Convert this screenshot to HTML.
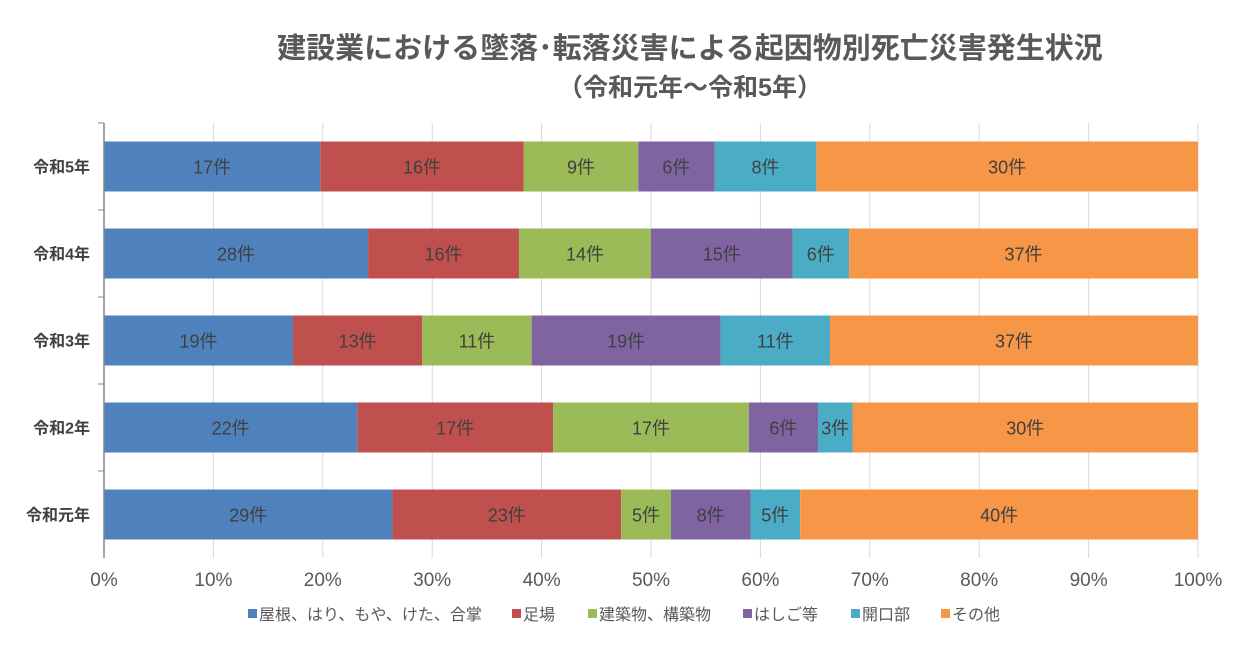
<!DOCTYPE html>
<html><head><meta charset="utf-8"><style>
body{margin:0;background:#fff;}
svg text{font-family:"Liberation Sans","Noto Sans CJK JP",sans-serif;}
</style></head><body>
<svg id="c" width="1251" height="645">
<text x="690" y="58" text-anchor="middle" font-size="29" font-weight="bold" fill="#595959">建設業における墜落･転落災害による起因物別死亡災害発生状況</text>
<text x="690" y="96" text-anchor="middle" font-size="25" font-weight="bold" fill="#595959">（令和元年～令和5年）</text>
<g id="grid"></g><g id="bars"></g><g id="axes"></g><g id="legend"></g>
</svg>
<script>
const categories=["令和5年","令和4年","令和3年","令和2年","令和元年"];
const seriesNames=["屋根、はり、もや、けた、合掌","足場","建築物、構築物","はしご等","開口部","その他"];
const s0=[17,28,19,22,29];
const s1=[16,16,13,17,23];
const s2=[9,14,11,17,5];
const s3=[6,15,19,6,8];
const s4=[8,6,11,3,5];
const s5=[30,37,37,30,40];
const tickLabels=["0%","10%","20%","30%","40%","50%","60%","70%","80%","90%","100%"];
const series=[s0,s1,s2,s3,s4,s5];
const colors=["#4f81bd","#c0504d","#9bbb59","#8064a2","#4bacc6","#f79646"];
const NS="http://www.w3.org/2000/svg";
const X0=104,X1=1198,Y0=123,Y1=558;
const xs=f=>X0+f*(X1-X0);
const band=(Y1-Y0)/categories.length;
const yc=i=>Y0+band*(i+0.5);
function mk(t,a,p){const e=document.createElementNS(NS,t);for(const k in a)e.setAttribute(k,a[k]);p.appendChild(e);return e;}
const grid=document.getElementById('grid'),bars=document.getElementById('bars'),axes=document.getElementById('axes'),leg=document.getElementById('legend');
tickLabels.forEach((t,i)=>{const x=xs(i/10);
 const l=mk('line',{x1:x,x2:x,y1:Y0,y2:Y1,stroke:'#d9d9d9','stroke-width':1},grid);
 
 
 const tx=mk('text',{x:x,y:586,'text-anchor':'middle','font-size':19,fill:'#595959'},axes);tx.textContent=t;
 
 
});
categories.forEach((c,i)=>{
 const tot=series.reduce((a,s)=>a+s[i],0);let acc=0;const y=yc(i);
 series.forEach((s,j)=>{const xa=xs(acc/tot);acc+=s[i];const xb=xs(acc/tot);
  const r=mk('rect',{x:xa,y:y-25,width:xb-xa,height:50,fill:colors[j]},bars);
  
  
  const t=mk('text',{x:(xa+xb)/2,y:y+7,'text-anchor':'middle','font-size':18,fill:'#404040'},bars);t.textContent=s[i]+'件';
  
  
 });
 const t=mk('text',{x:90,y:y+6,'text-anchor':'end','font-size':16,'font-weight':'bold',fill:'#404040'},axes);t.textContent=c;
 
 
 const tk=mk('line',{x1:98,x2:X0,y1:Y0+band*i,y2:Y0+band*i,stroke:'#868686'},axes);
 
 
});
const ax=mk('line',{x1:X0,x2:X0,y1:Y0,y2:Y1,stroke:'#868686','stroke-width':1.5},axes);


const lx=[248,512,588,743,851,941];
seriesNames.forEach((n,j)=>{
 const g=mk('g',{},leg);
 
 
 mk('rect',{x:lx[j],y:609,width:9,height:9,fill:colors[j]},g);
 const t=mk('text',{x:lx[j]+11,y:620,'font-size':16,fill:'#595959'},g);t.textContent=n;
});
</script>
</body></html>
